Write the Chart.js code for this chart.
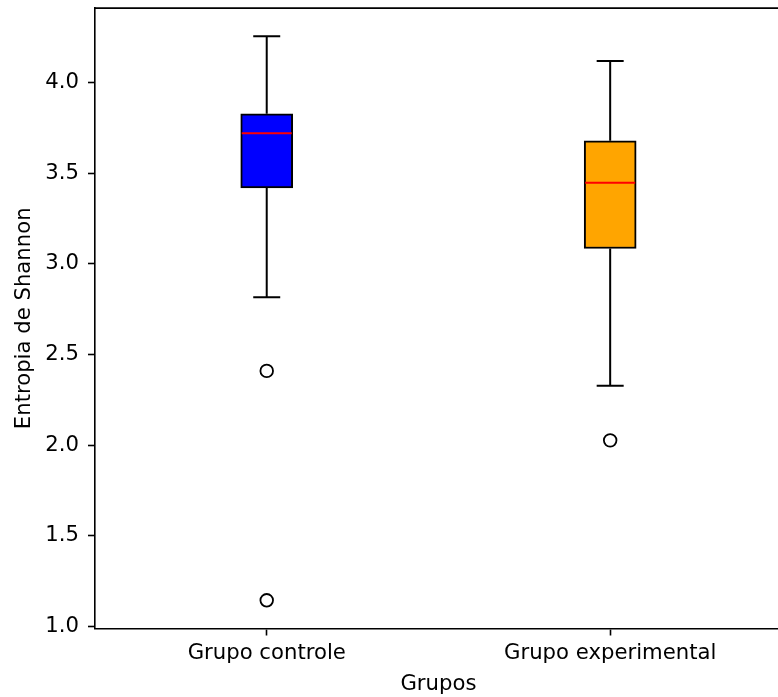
<!DOCTYPE html>
<html>
<head>
<meta charset="utf-8">
<script src="https://cdn.jsdelivr.net/npm/chart.js@4/dist/chart.umd.min.js"></script>
<style>
  html, body { margin: 0; padding: 0; background: #fff; overflow: hidden; }
  #wrap { width: 790px; height: 697px; }
</style>
</head>
<body>
<div id="wrap"><canvas id="c" width="790" height="697"></canvas></div>
<script>
// ---- data ----
const categories = ['Grupo controle', 'Grupo experimental'];
const whiskerLow = [2.816, 2.328];
const q1 = [3.419, 3.085];
const median = [3.720, 3.448];
const q3 = [3.828, 3.679];
const whiskerHigh = [4.255, 4.119];
const outliersControl = [2.41, 1.145];
const outliersExperimental = [2.027];
const boxColors = ['#0000ff', '#ffa500'];
const yTicks = [1.0, 1.5, 2.0, 2.5, 3.0, 3.5, 4.0];
const yMin = 0.9895, yMax = 4.4105;

const FONT = 'DejaVu Sans';
const FS = 21.2;

const outlierPoints = []
  .concat(outliersControl.map(v => ({ x: categories[0], y: v })))
  .concat(outliersExperimental.map(v => ({ x: categories[1], y: v })));

const boxPlugin = {
  id: 'boxExtras',
  afterDatasetsDraw(chart) {
    const ctx = chart.ctx;
    const xs = chart.scales.x, ys = chart.scales.y;
    const half = 52 / 2;
    ctx.save();
    categories.forEach((c, i) => {
      const cx = xs.getPixelForValue(i);
      // whiskers
      ctx.strokeStyle = '#000';
      ctx.lineWidth = 2;
      ctx.beginPath();
      ctx.moveTo(cx, ys.getPixelForValue(q3[i]));
      ctx.lineTo(cx, ys.getPixelForValue(whiskerHigh[i]));
      ctx.moveTo(cx, ys.getPixelForValue(q1[i]));
      ctx.lineTo(cx, ys.getPixelForValue(whiskerLow[i]));
      // caps
      ctx.moveTo(cx - half / 2 - 0.5, ys.getPixelForValue(whiskerHigh[i]));
      ctx.lineTo(cx + half / 2 + 0.5, ys.getPixelForValue(whiskerHigh[i]));
      ctx.moveTo(cx - half / 2 - 0.5, ys.getPixelForValue(whiskerLow[i]));
      ctx.lineTo(cx + half / 2 + 0.5, ys.getPixelForValue(whiskerLow[i]));
      ctx.stroke();
      // median
      ctx.strokeStyle = '#ff0000';
      ctx.lineWidth = 2;
      ctx.beginPath();
      ctx.moveTo(cx - half + 1, ys.getPixelForValue(median[i]));
      ctx.lineTo(cx + half - 1, ys.getPixelForValue(median[i]));
      ctx.stroke();
    });
    // frame (top and right spines)
    const a = chart.chartArea;
    ctx.strokeStyle = '#000';
    ctx.lineWidth = 1.6;
    ctx.beginPath();
    ctx.moveTo(a.left, a.top);
    ctx.lineTo(a.right, a.top);
    ctx.lineTo(a.right, a.bottom);
    ctx.stroke();
    ctx.restore();
  }
};

new Chart(document.getElementById('c'), {
  type: 'bar',
  data: {
    labels: categories,
    datasets: [
      {
        type: 'bar',
        data: categories.map((c, i) => [q1[i], q3[i]]),
        backgroundColor: boxColors,
        borderColor: '#000',
        borderWidth: 2,
        borderSkipped: false,
        barThickness: 52,
        order: 2
      },
      {
        type: 'line',
        data: outlierPoints,
        showLine: false,
        pointStyle: 'circle',
        pointRadius: 6.3,
        pointBorderWidth: 1.8,
        pointBorderColor: '#000',
        pointBackgroundColor: 'rgba(0,0,0,0)',
        order: 1
      }
    ]
  },
  options: {
    responsive: false,
    animation: false,
    devicePixelRatio: 1,
    layout: { padding: { top: 7, right: 4.5, left: 0, bottom: 0 } },
    plugins: { legend: { display: false }, tooltip: { enabled: false } },
    scales: {
      x: {
        type: 'category',
        offset: true,
        grid: { display: true, drawOnChartArea: false, drawTicks: true, tickLength: 7, tickWidth: 1.6, tickColor: '#000', offset: false },
        border: { display: true, color: '#000', width: 1.6 },
        ticks: { color: '#000', font: { family: FONT, size: FS }, padding: 5, maxRotation: 0 },
        title: { display: true, text: 'Grupos', color: '#000', font: { family: FONT, size: FS }, padding: { top: 0, bottom: 0 } },
        afterFit(s) { s.height = 68.5; s.paddingLeft = 0; s.paddingRight = 0; }
      },
      y: {
        type: 'linear',
        min: yMin,
        max: yMax,
        afterBuildTicks(s) { s.ticks = yTicks.map(v => ({ value: v })); },
        grid: { display: true, drawOnChartArea: false, drawTicks: true, tickLength: 7, tickWidth: 1.6, tickColor: '#000' },
        border: { display: true, color: '#000', width: 1.6 },
        ticks: { color: '#000', font: { family: FONT, size: FS }, padding: 9, callback: v => Number(v).toFixed(1) },
        title: { display: true, text: 'Entropia de Shannon', color: '#000', font: { family: FONT, size: FS }, padding: { top: 11.5, bottom: 0 } },
        afterFit(s) { s.width = 95; s.paddingTop = 0; s.paddingBottom = 0; }
      }
    }
  },
  plugins: [boxPlugin]
});
</script>
</body>
</html>
